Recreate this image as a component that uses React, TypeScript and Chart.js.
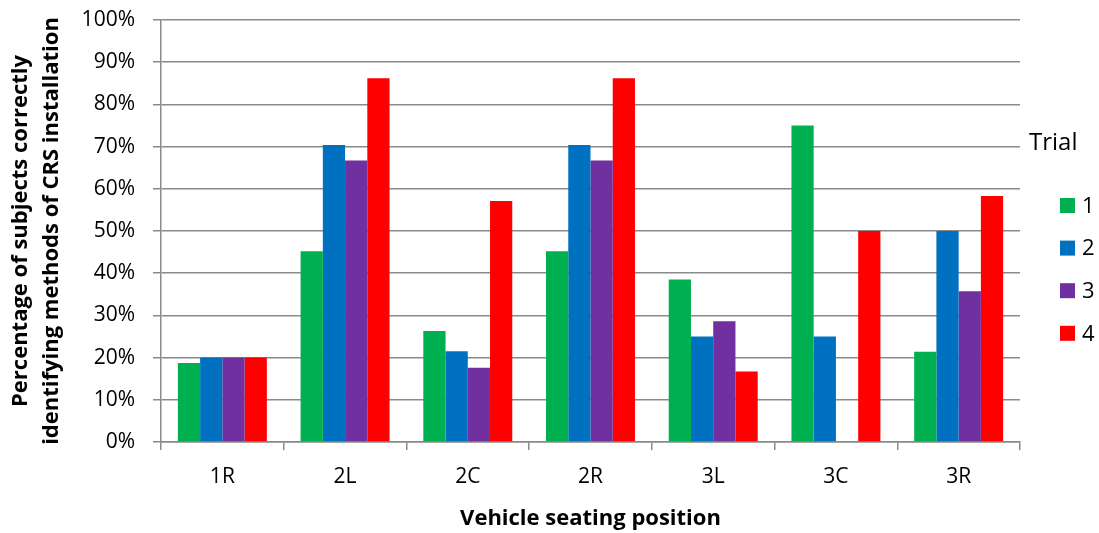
import React, { useEffect, useRef } from "react";
import { Chart, registerables } from "chart.js";

Chart.register(...registerables);

const categories = ["1R", "2L", "2C", "2R", "3L", "3C", "3R"];
const trialLabels = ["1", "2", "3", "4"];
const trial1 = [18.75, 45.2, 26.3, 45.2, 38.5, 75.0, 21.4];
const trial2 = [20.0, 70.4, 21.5, 70.4, 25.0, 25.0, 50.0];
const trial3 = [20.0, 66.7, 17.6, 66.7, 28.6, null, 35.7];
const trial4 = [20.0, 86.2, 57.1, 86.2, 16.7, 50.0, 58.3];
const trialColors = ["#00B050", "#0070C0", "#7030A0", "#FF0000"];
const yTitle = ["Percentage of subjects correctly", "identifying methods of CRS installation"];
const xTitle = "Vehicle seating position";
const legendTitle = "Trial";

const FONT = "'Open Sans', sans-serif";
const GRID = "#8a8a8a";

const legendPlugin = {
  id: "sideLegend",
  afterDraw(chart: any) {
    const ctx = chart.ctx;
    ctx.save();
    ctx.fillStyle = "#000";
    ctx.textBaseline = "middle";
    ctx.textAlign = "left";
    ctx.font = `24px ${FONT}`;
    ctx.fillText(legendTitle, 1029, 143);
    ctx.font = `22px ${FONT}`;
    chart.data.datasets.forEach((ds: any, i: number) => {
      const cy = 205.5 + i * 42.6;
      ctx.fillStyle = ds.backgroundColor;
      ctx.fillRect(1060, cy - 7.5, 15, 15);
      ctx.fillStyle = "#000";
      ctx.fillText(ds.label, 1082, cy + 1);
    });
    ctx.restore();
  },
};

export default function App() {
  const ref = useRef<HTMLCanvasElement | null>(null);
  useEffect(() => {
    if (!ref.current) return;
    const series = [trial1, trial2, trial3, trial4];
    const chart = new Chart(ref.current, {
      type: "bar",
      data: {
        labels: categories,
        datasets: series.map((d, i) => ({
          label: trialLabels[i],
          data: d,
          backgroundColor: trialColors[i],
          borderWidth: 0,
          categoryPercentage: 0.725,
          barPercentage: 1.0,
        })),
      },
      options: {
        animation: false,
        responsive: false,
        devicePixelRatio: 1,
        layout: { padding: { left: 0, right: 79, top: 20, bottom: 0 } },
        plugins: {
          legend: { display: false },
          tooltip: { enabled: false },
        },
        scales: {
          x: {
            offset: true,
            grid: {
              offset: true,
              drawOnChartArea: false,
              drawTicks: true,
              tickLength: 8,
              color: GRID,
              lineWidth: 1.5,
            },
            border: { color: GRID, width: 1.5 },
            ticks: { color: "#000", font: { family: FONT, size: 21 }, padding: 14 },
            title: {
              display: true,
              text: xTitle,
              color: "#000",
              font: { family: FONT, size: 22, weight: "bold" },
              padding: { top: 0, bottom: 1.5 },
            },
            afterFit(scale: any) {
              scale.height = 91;
            },
          },
          y: {
            min: 0,
            max: 100,
            grid: {
              color: GRID,
              lineWidth: 1.5,
              tickLength: 8,
            },
            border: { color: GRID, width: 1.5 },
            ticks: {
              stepSize: 10,
              color: "#000",
              font: { family: FONT, size: 21 },
              padding: 18,
              callback: (v: any) => `${v}%`,
            },
            title: {
              display: true,
              text: yTitle,
              color: "#000",
              font: { family: FONT, size: 22, weight: "bold", lineHeight: 1.42 },
              padding: { top: 5, bottom: 0 },
            },
            afterFit(scale: any) {
              scale.width = 161;
              scale.paddingTop = 0;
              scale.paddingBottom = 0;
            },
          },
        },
      },
      plugins: [legendPlugin],
    });
    return () => chart.destroy();
  }, []);
  return (
    <div style={{ position: "fixed", left: 0, top: 0, width: 1099, height: 533, background: "#fff" }}>
      <canvas ref={ref} width={1099} height={533} />
    </div>
  );
}
